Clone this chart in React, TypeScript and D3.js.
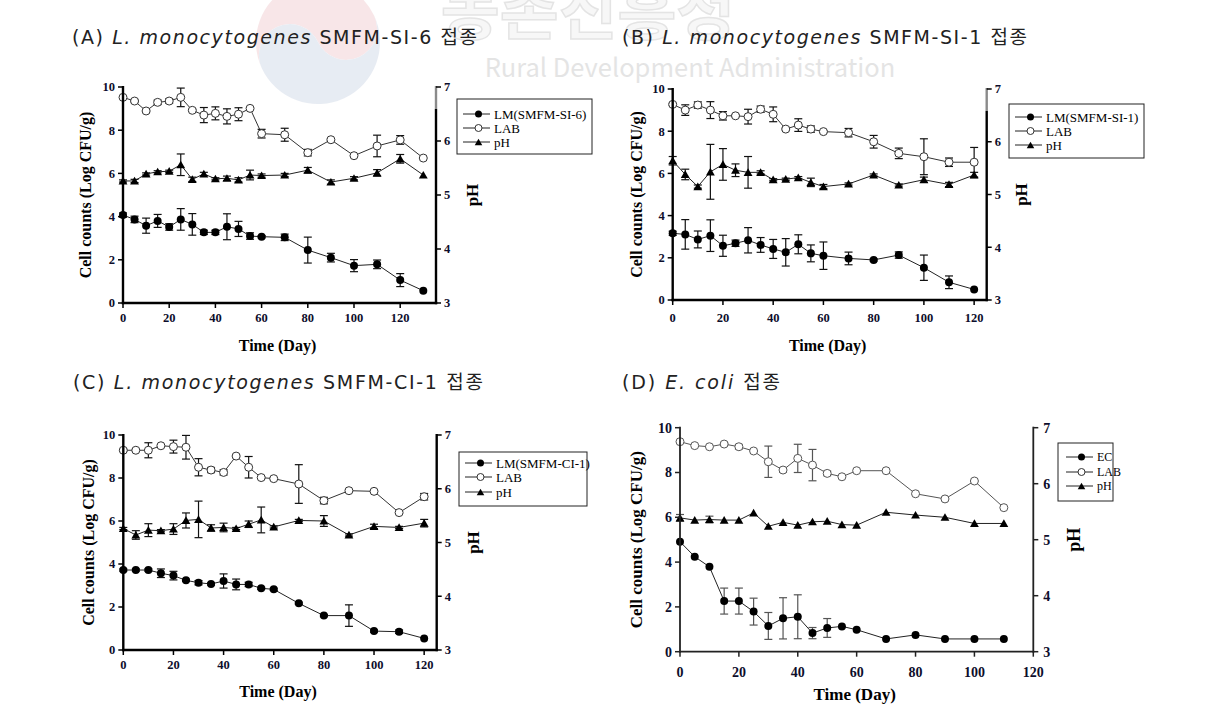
import React from 'react';
import * as d3 from 'd3';

// ---------- DATA ----------
const daysA = [0, 5, 10, 15, 20, 25, 30, 35, 40, 45, 50, 55, 60, 70, 80, 90, 100, 110, 120, 130];
const lmA = [4.07, 3.87, 3.58, 3.8, 3.52, 3.87, 3.64, 3.27, 3.27, 3.53, 3.43, 3.1, 3.07, 3.04, 2.45, 2.1, 1.73, 1.79, 1.06, 0.57];
const lmAErr = [0.1, 0.15, 0.35, 0.3, 0.15, 0.5, 0.5, 0.1, 0.1, 0.6, 0.35, 0.15, 0.05, 0.15, 0.6, 0.2, 0.28, 0.2, 0.3, 0];
const labA = [9.52, 9.35, 8.89, 9.29, 9.35, 9.52, 8.92, 8.7, 8.78, 8.64, 8.74, 9.01, 7.84, 7.79, 6.96, 7.56, 6.82, 7.27, 7.55, 6.71];
const labAErr = [0.05, 0.05, 0.05, 0.1, 0.1, 0.43, 0.05, 0.35, 0.3, 0.35, 0.3, 0.05, 0.2, 0.3, 0.15, 0.05, 0.05, 0.5, 0.2, 0];
const phA = [5.26, 5.26, 5.39, 5.43, 5.44, 5.56, 5.29, 5.39, 5.3, 5.31, 5.28, 5.37, 5.36, 5.37, 5.46, 5.24, 5.31, 5.41, 5.67, 5.37];
const phAErr = [0.02, 0.03, 0.02, 0.02, 0.02, 0.2, 0.04, 0.03, 0.02, 0.04, 0.04, 0.09, 0.03, 0.03, 0.05, 0.04, 0.03, 0.06, 0.08, 0];

const daysB = [0, 5, 10, 15, 20, 25, 30, 35, 40, 45, 50, 55, 60, 70, 80, 90, 100, 110, 120];
const lmB = [3.16, 3.11, 2.87, 3.05, 2.57, 2.69, 2.83, 2.61, 2.42, 2.26, 2.64, 2.21, 2.1, 1.97, 1.9, 2.13, 1.53, 0.84, 0.5];
const lmBErr = [0.1, 0.7, 0.4, 0.75, 0.5, 0.15, 0.6, 0.35, 0.45, 0.65, 0.45, 0.4, 0.65, 0.3, 0.05, 0.15, 0.6, 0.3, 0];
const labB = [9.27, 9.0, 9.24, 9.0, 8.73, 8.73, 8.69, 9.04, 8.8, 8.1, 8.29, 8.1, 7.98, 7.93, 7.5, 6.95, 6.79, 6.53, 6.53];
const labBErr = [0.05, 0.25, 0.15, 0.4, 0.2, 0.05, 0.35, 0.15, 0.35, 0.05, 0.3, 0.15, 0.05, 0.2, 0.3, 0.25, 0.85, 0.2, 0.7];
const phB = [5.64, 5.38, 5.15, 5.43, 5.57, 5.46, 5.42, 5.42, 5.28, 5.29, 5.32, 5.23, 5.15, 5.2, 5.37, 5.18, 5.28, 5.19, 5.37];
const phBErr = [0.08, 0.1, 0.03, 0.52, 0.3, 0.12, 0.3, 0.03, 0.02, 0.02, 0.02, 0.08, 0.04, 0.02, 0.02, 0.02, 0.05, 0.04, 0.05];

const daysC = [0, 5, 10, 15, 20, 25, 30, 35, 40, 45, 50, 55, 60, 70, 80, 90, 100, 110, 120];
const lmC = [3.72, 3.72, 3.72, 3.57, 3.46, 3.24, 3.13, 3.07, 3.21, 3.05, 3.05, 2.87, 2.82, 2.17, 1.6, 1.6, 0.88, 0.85, 0.54];
const lmCErr = [0.05, 0.05, 0.05, 0.2, 0.2, 0.05, 0.1, 0.05, 0.33, 0.25, 0.1, 0.05, 0.05, 0.05, 0.05, 0.5, 0.05, 0.08, 0];
const labC = [9.29, 9.29, 9.29, 9.5, 9.46, 9.43, 8.5, 8.37, 8.26, 9.02, 8.5, 8.02, 7.97, 7.72, 6.95, 7.41, 7.38, 6.39, 7.13];
const labCErr = [0.05, 0.05, 0.35, 0.05, 0.3, 0.55, 0.4, 0.12, 0.12, 0.05, 0.5, 0.05, 0.05, 0.9, 0.15, 0.05, 0.05, 0.05, 0.15];
const phC = [5.26, 5.14, 5.23, 5.22, 5.25, 5.41, 5.43, 5.27, 5.28, 5.26, 5.34, 5.42, 5.29, 5.41, 5.4, 5.14, 5.3, 5.28, 5.36];
const phCErr = [0.02, 0.08, 0.12, 0.02, 0.1, 0.14, 0.34, 0.06, 0.08, 0.02, 0.06, 0.24, 0.02, 0.02, 0.1, 0.02, 0.04, 0.02, 0.07];

const daysD = [0, 5, 10, 15, 20, 25, 30, 35, 40, 45, 50, 55, 60, 70, 80, 90, 100, 110];
const ecD = [4.91, 4.24, 3.79, 2.26, 2.26, 1.79, 1.15, 1.49, 1.56, 0.83, 1.06, 1.13, 0.98, 0.57, 0.75, 0.57, 0.57, 0.57];
const ecDErr = [0, 0, 0, 0.58, 0.58, 0.6, 0.6, 0.92, 0.98, 0.25, 0.42, 0, 0, 0, 0, 0, 0, 0];
const labD = [9.375, 9.2, 9.15, 9.27, 9.15, 8.96, 8.48, 8.11, 8.63, 8.33, 7.96, 7.81, 8.08, 8.08, 7.05, 6.82, 7.62, 6.43];
const labDErr = [0, 0, 0, 0.05, 0.1, 0, 0.7, 0.1, 0.63, 0.7, 0.1, 0, 0, 0, 0, 0, 0, 0];
const phD = [5.39, 5.35, 5.36, 5.35, 5.35, 5.48, 5.24, 5.31, 5.26, 5.32, 5.33, 5.27, 5.26, 5.49, 5.44, 5.4, 5.29, 5.29];
const phDErr = [0.06, 0, 0.06, 0, 0, 0, 0, 0, 0, 0, 0, 0, 0, 0, 0, 0, 0, 0];

const countTicks = [0, 2, 4, 6, 8, 10];
const phTicks = [3, 4, 5, 6, 7];
const dayTicks = [0, 20, 40, 60, 80, 100, 120];

const legendA = ['LM(SMFM-SI-6)', 'LAB', 'pH'];
const legendB = ['LM(SMFM-SI-1)', 'LAB', 'pH'];
const legendC = ['LM(SMFM-CI-1)', 'LAB', 'pH'];
const legendD = ['EC', 'LAB', 'pH'];

const SERIF = '"Liberation Serif", "Times New Roman", serif';
const SANS = '"Noto Sans CJK KR", "Noto Sans", sans-serif';
const TITLE_FONT = '"DejaVu Sans", "Noto Sans CJK KR", sans-serif';

type PanelCfg = {
  days: number[];
  lm: number[]; lmErr: number[];
  lab: number[]; labErr: number[];
  ph: number[]; phErr: number[];
  legend: string[];
  x0: number; x1: number; xMax: number;
  yTop: number; yBot: number;
  axisW: number; axisColor: string;
  tickFont: number; titleFont: number;
  xLabelDy: number; leftLabelX: number; rightLabelX: number; xTitleY: number;
  phTitleX: number;
  grayTop: boolean;
  leg: { x: number; y: number; w: number; h: number; rows: number[]; lx0: number; lx1: number; tx: number; font: number };
  labColor: string; errColor: string; mr: number;
};

const panels: PanelCfg[] = [
  {
    days: daysA, lm: lmA, lmErr: lmAErr, lab: labA, labErr: labAErr, ph: phA, phErr: phAErr, legend: legendA,
    x0: 123, x1: 436, xMax: 135.5, yTop: 87, yBot: 303, axisW: 2.4, axisColor: '#000',
    tickFont: 12.5, titleFont: 16, xLabelDy: 15, leftLabelX: 85, rightLabelX: 8, xTitleY: 345, phTitleX: 472, grayTop: true,
    leg: { x: 457, y: 99, w: 135, h: 55, rows: [114, 128, 142], lx0: 463, lx1: 490, tx: 494, font: 13 },
    labColor: '#333', errColor: '#111', mr: 4,
  },
  {
    days: daysB, lm: lmB, lmErr: lmBErr, lab: labB, labErr: labBErr, ph: phB, phErr: phBErr, legend: legendB,
    x0: 672.7, x1: 986.7, xMax: 125, yTop: 89, yBot: 300, axisW: 2.4, axisColor: '#000',
    tickFont: 12.5, titleFont: 16, xLabelDy: 18, leftLabelX: 636, rightLabelX: 8, xTitleY: 345, phTitleX: 1021, grayTop: true,
    leg: { x: 1009, y: 104, w: 135, h: 54, rows: [117, 131, 145], lx0: 1015, lx1: 1042, tx: 1046, font: 13 },
    labColor: '#333', errColor: '#111', mr: 4,
  },
  {
    days: daysC, lm: lmC, lmErr: lmCErr, lab: labC, labErr: labCErr, ph: phC, phErr: phCErr, legend: legendC,
    x0: 123.3, x1: 436.7, xMax: 125, yTop: 435, yBot: 650, axisW: 2.4, axisColor: '#000',
    tickFont: 12.5, titleFont: 16, xLabelDy: 15, leftLabelX: 88, rightLabelX: 8, xTitleY: 691, phTitleX: 473, grayTop: false,
    leg: { x: 459, y: 452, w: 128, h: 54, rows: [463, 477, 492], lx0: 465, lx1: 492, tx: 496, font: 13 },
    labColor: '#333', errColor: '#111', mr: 4,
  },
  {
    days: daysD, lm: ecD, lmErr: ecDErr, lab: labD, labErr: labDErr, ph: phD, phErr: phDErr, legend: legendD,
    x0: 680, x1: 1033.3, xMax: 120, yTop: 427.7, yBot: 651.7, axisW: 1.8, axisColor: '#222',
    tickFont: 14, titleFont: 17, xLabelDy: 20, leftLabelX: 636, rightLabelX: 10, xTitleY: 694, phTitleX: 1074, grayTop: false,
    leg: { x: 1058, y: 443, w: 55, h: 58, rows: [457, 472, 486], lx0: 1066, lx1: 1093, tx: 1097, font: 12 },
    labColor: '#555', errColor: '#555', mr: 4,
  },
];

const titles = [
  { x: 72, y: 44, len: 405, pre: '(A) ', ital: 'L. monocytogenes', post: ' SMFM-SI-6 접종' },
  { x: 622, y: 44, len: 405, pre: '(B) ', ital: 'L. monocytogenes', post: ' SMFM-SI-1 접종' },
  { x: 73, y: 389, len: 410, pre: '(C) ', ital: 'L. monocytogenes', post: ' SMFM-CI-1 접종' },
  { x: 622, y: 389, len: 158, pre: '(D) ', ital: 'E. coli', post: ' 접종' },
];

const triPath = d3.symbol().type(d3.symbolTriangle).size(34)() as string;

function ErrBars({ xs, ys, es, x, y, color }: any) {
  return (
    <g stroke={color} strokeWidth={1.2}>
      {xs.map((d: number, i: number) => {
        if (!es[i]) return null;
        const cx = x(d);
        const yHi = y(ys[i] + es[i]);
        const yLo = y(ys[i] - es[i]);
        return (
          <g key={i}>
            <line x1={cx} x2={cx} y1={yHi} y2={yLo} />
            <line x1={cx - 4} x2={cx + 4} y1={yHi} y2={yHi} />
            <line x1={cx - 4} x2={cx + 4} y1={yLo} y2={yLo} />
          </g>
        );
      })}
    </g>
  );
}

function Panel({ p }: { p: PanelCfg }) {
  const x = d3.scaleLinear().domain([0, p.xMax]).range([p.x0, p.x1]);
  const y = d3.scaleLinear().domain([0, 10]).range([p.yBot, p.yTop]);
  const yp = d3.scaleLinear().domain([3, 7]).range([p.yBot, p.yTop]);
  const line = d3.line<[number, number]>().x((d) => d[0]).y((d) => d[1]);
  const lmPts = p.days.map((d, i) => [x(d), y(p.lm[i])] as [number, number]);
  const labPts = p.days.map((d, i) => [x(d), y(p.lab[i])] as [number, number]);
  const phPts = p.days.map((d, i) => [x(d), yp(p.ph[i])] as [number, number]);
  const midY = (p.yTop + p.yBot) / 2;
  const tickColor = '#0d0d2b';
  const L = p.leg;
  return (
    <g>
      <path d={line(labPts) as string} fill="none" stroke={p.labColor} strokeWidth={1} />
      <path d={line(phPts) as string} fill="none" stroke="#222" strokeWidth={1} />
      <path d={line(lmPts) as string} fill="none" stroke="#222" strokeWidth={1} />
      <ErrBars xs={p.days} ys={p.lab} es={p.labErr} x={x} y={y} color={p.errColor} />
      <ErrBars xs={p.days} ys={p.ph} es={p.phErr} x={x} y={yp} color={p.errColor} />
      <ErrBars xs={p.days} ys={p.lm} es={p.lmErr} x={x} y={y} color={p.errColor} />
      {labPts.map((pt, i) => (
        <circle key={'l' + i} cx={pt[0]} cy={pt[1]} r={p.mr} fill="#fff" stroke={p.labColor} strokeWidth={1} />
      ))}
      {phPts.map((pt, i) => (
        <path key={'p' + i} d={triPath} transform={`translate(${pt[0]},${pt[1] + 1})`} fill="#000" />
      ))}
      {lmPts.map((pt, i) => (
        <circle key={'m' + i} cx={pt[0]} cy={pt[1]} r={p.mr} fill="#000" />
      ))}
      <g stroke={p.axisColor} strokeWidth={p.axisW} fill="none">
        <line x1={p.x0} x2={p.x0} y1={p.yTop - 1} y2={p.yBot + p.axisW / 2} />
        <line x1={p.x0 - p.axisW / 2} x2={p.x1 + p.axisW / 2} y1={p.yBot} y2={p.yBot} />
        <line x1={p.x1} x2={p.x1} y1={p.grayTop ? p.yTop + 22 : p.yTop - 1} y2={p.yBot + p.axisW / 2} />
      </g>
      {p.grayTop && <line x1={p.x1} x2={p.x1} y1={p.yTop - 1} y2={p.yTop + 22} stroke="#8a8a8a" strokeWidth={p.axisW} />}
      <g stroke={p.axisColor} strokeWidth={1.5}>
        {countTicks.map((t) => (
          <line key={'lt' + t} x1={p.x0 - 5} x2={p.x0} y1={y(t)} y2={y(t)} />
        ))}
        {phTicks.map((t) => (
          <line key={'rt' + t} x1={p.x1} x2={p.x1 + 5} y1={yp(t)} y2={yp(t)} />
        ))}
        {dayTicks.filter((t) => t <= p.xMax).map((t) => (
          <line key={'bt' + t} x1={x(t)} x2={x(t)} y1={p.yBot} y2={p.yBot + 5} />
        ))}
      </g>
      <g fontFamily={SERIF} fontWeight="bold" fontSize={p.tickFont} fill={tickColor}>
        {countTicks.map((t) => (
          <text key={'ll' + t} x={p.x0 - 8} y={y(t)} dy="0.35em" textAnchor="end">{t}</text>
        ))}
        {phTicks.map((t) => (
          <text key={'rl' + t} x={p.x1 + p.rightLabelX} y={yp(t)} dy="0.35em" textAnchor="start">{t}</text>
        ))}
        {dayTicks.filter((t) => t <= p.xMax).map((t) => (
          <text key={'bl' + t} x={x(t)} y={p.yBot + p.xLabelDy} dy="0.35em" textAnchor="middle">{t}</text>
        ))}
      </g>
      <g fontFamily={SERIF} fontWeight="bold" fontSize={p.titleFont} fill="#000">
        <text transform={`translate(${p.leftLabelX},${midY}) rotate(-90)`} textAnchor="middle" dy="0.35em">Cell counts (Log CFU/g)</text>
        <text transform={`translate(${p.phTitleX},${midY}) rotate(-90)`} textAnchor="middle" dy="0.35em" fontSize={p.titleFont + 1}>pH</text>
        <text x={(p.x0 + p.x1) / 2 - 2} y={p.xTitleY} textAnchor="middle" dy="0.35em">Time (Day)</text>
      </g>
      <rect x={L.x} y={L.y} width={L.w} height={L.h} fill="#fff" stroke="#222" strokeWidth={1} />
      {p.legend.map((name, i) => {
        const cy = L.rows[i];
        const mx = (L.lx0 + L.lx1) / 2 + 2;
        return (
          <g key={name}>
            <line x1={L.lx0} x2={L.lx1} y1={cy} y2={cy} stroke="#222" strokeWidth={1} />
            {i === 0 && <circle cx={mx} cy={cy} r={3.5} fill="#000" />}
            {i === 1 && <circle cx={mx} cy={cy} r={3.5} fill="#fff" stroke="#333" />}
            {i === 2 && <path d={triPath} transform={`translate(${mx},${cy + 1}) scale(0.85)`} fill="#000" />}
            <text x={L.tx} y={cy} dy="0.35em" fontFamily={SERIF} fontSize={L.font} fill="#000">{name}</text>
          </g>
        );
      })}
    </g>
  );
}

// taegeuk-like watermark emblem
const R = 62;
const redHalf = `M ${-R},0 A ${R} ${R} 0 0 1 ${R},0 A ${R / 2} ${R / 2} 0 0 1 0,0 A ${R / 2} ${R / 2} 0 0 0 ${-R},0 Z`;
const blueHalf = `M ${-R},0 A ${R} ${R} 0 0 0 ${R},0 A ${R / 2} ${R / 2} 0 0 1 0,0 A ${R / 2} ${R / 2} 0 0 0 ${-R},0 Z`;

export default function App() {
  return (
    <svg width={1214} height={714} viewBox="0 0 1214 714" style={{ position: 'absolute', left: 0, top: 0, background: '#fff' }}>
      <rect x={0} y={0} width={1214} height={714} fill="#fff" />
      <g opacity={0.4} transform="translate(318,42) rotate(-25)">
        <path d={redHalf} fill="#eec3c7" />
        <path d={blueHalf} fill="#c5d0e2" />
      </g>
      <g opacity={0.55}>
        <text x={588} y={34} textAnchor="middle" fontFamily={SANS} fontWeight="bold" fontSize={64} fill="#f2f2f2" stroke="#cfcfcf" strokeWidth={1.5}>농촌진흥청</text>
        <text x={690} y={77} textAnchor="middle" fontFamily={SANS} fontSize={25.5} fill="#cfcfcf">Rural Development Administration</text>
      </g>
      {titles.map((t) => (
        <text key={t.pre} x={t.x} y={t.y} fontFamily={TITLE_FONT} fontSize={19} fill="#222" textLength={t.len} lengthAdjust="spacing">
          <tspan>{t.pre}</tspan>
          <tspan fontStyle="italic">{t.ital}</tspan>
          <tspan>{t.post}</tspan>
        </text>
      ))}
      {panels.map((p, i) => (
        <Panel key={i} p={p} />
      ))}
    </svg>
  );
}
